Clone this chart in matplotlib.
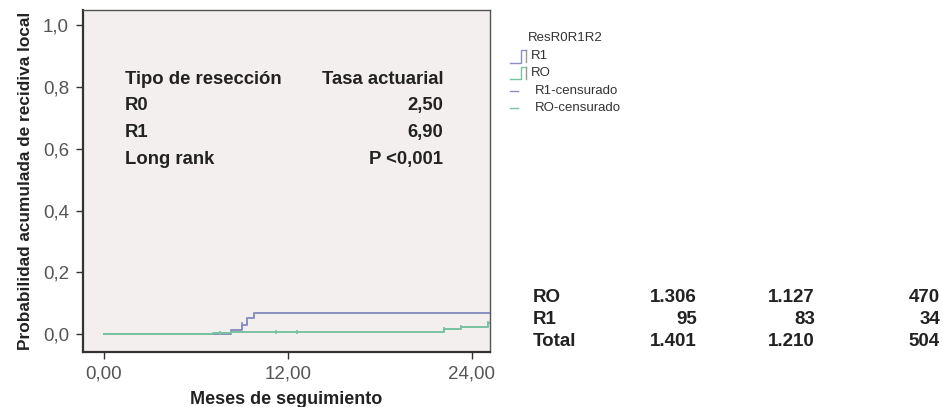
import numpy as np
import matplotlib as mpl
mpl.use('Agg')
import matplotlib.pyplot as plt
from matplotlib.lines import Line2D

mpl.rcParams['font.family'] = ['Liberation Sans', 'DejaVu Sans']

# Kaplan-Meier style cumulative curves (months, cumulative probability)
r1_t = [0.0, 8.28, 8.98, 9.35, 9.78, 25.5]
r1_p = [0.0, 0.012, 0.030, 0.052, 0.069, 0.069]
r1_cens_t = [8.98]
r1_cens_p = [0.030]

r0_t = [0.0, 7.1, 8.3, 22.2, 23.3, 25.05, 25.5]
r0_p = [0.0, 0.003, 0.008, 0.017, 0.024, 0.035, 0.035]
r0_cens_t = [7.6, 11.2, 12.6, 22.2, 23.3, 25.05]
r0_cens_p = [0.003, 0.008, 0.008, 0.017, 0.024, 0.035]

x_ticks = [0, 12, 24]
x_ticklabels = ["0,00", "12,00", "24,00"]
y_ticks = [0.0, 0.2, 0.4, 0.6, 0.8, 1.0]
y_ticklabels = ["0,0", "0,2", "0,4", "0,6", "0,8", "1,0"]

info_rows = [("Tipo de resección", "Tasa actuarial"),
             ("R0", "2,50"),
             ("R1", "6,90"),
             ("Long rank", "P <0,001")]

table_labels = ["RO", "R1", "Total"]
table_col1 = ["1.306", "95", "1.401"]
table_col2 = ["1.127", "83", "1.210"]
table_col3 = ["470", "34", "504"]

blue = "#8a8fc0"
green = "#78c2a0"
W, H = 943, 407

fig = plt.figure(figsize=(W / 100, H / 100), dpi=100)
ax = fig.add_axes([83 / W, 1 - 352 / H, (490 - 83) / W, (352 - 10) / H])
ax.set_facecolor("#f3efee")

ax.step(r1_t, r1_p, where="post", color=blue, lw=1.4)
ax.step(r0_t, r0_p, where="post", color=green, lw=1.4)
ax.plot(r1_cens_t, r1_cens_p, ls="none", marker="|", ms=4, mew=1.2, color=blue)
ax.plot(r0_cens_t, r0_cens_p, ls="none", marker="|", ms=3, mew=1.2, color=green)

ax.set_xlim(-1.37, 25.2)
ax.set_ylim(-0.058, 1.049)
ax.set_xticks(x_ticks)
ax.set_xticklabels(x_ticklabels)
ax.set_yticks(y_ticks)
ax.set_yticklabels(y_ticklabels)
ax.tick_params(axis="both", direction="out", length=5, width=1, color="#333333",
               labelsize=13.5, labelcolor="#555555", pad=5)

for side in ["left", "bottom"]:
    ax.spines[side].set_linewidth(1.6)
    ax.spines[side].set_color("#333333")
for side in ["top", "right"]:
    ax.spines[side].set_linewidth(1.0)
    ax.spines[side].set_color("#555555")

ax.set_xlabel("Meses de seguimiento", fontsize=13, fontweight="bold", color="#222222", labelpad=6)
ax.set_ylabel("Probabilidad acumulada de recidiva local", fontsize=12.4, fontweight="bold",
              color="#222222", labelpad=7)

# text block inside the plot
for i, (left, right) in enumerate(info_rows):
    y = 79 + i * 26.7
    fig.text(125 / W, 1 - y / H, left, ha="left", va="center", fontsize=13.3,
             fontweight="bold", color="#222222")
    fig.text(443 / W, 1 - y / H, right, ha="right", va="center", fontsize=13.3,
             fontweight="bold", color="#222222")

# legend drawn by hand
def fl(xs, ys, color):
    fig.add_artist(Line2D([x / W for x in xs], [1 - y / H for y in ys],
                          color=color, lw=1.0, transform=fig.transFigure))

lkw = dict(ha="left", va="center", fontsize=9.5, color="#333333")
fig.text(528 / W, 1 - 38 / H, "ResR0R1R2", **lkw)
fl([510, 521, 521, 526], [62.5, 62.5, 50, 50], blue)
fl([526, 526], [50, 62], "#999999")
fig.text(531 / W, 1 - 56 / H, "R1", **lkw)
fl([510, 521, 521, 526], [79, 79, 67, 67], green)
fl([526, 526], [67, 79], "#999999")
fig.text(531 / W, 1 - 73 / H, "RO", **lkw)
fl([510, 518], [90.7, 90.7], blue)
fig.text(535 / W, 1 - 90.7 / H, "R1-censurado", **lkw)
fl([510, 518], [108, 108], green)
fig.text(535 / W, 1 - 108 / H, "RO-censurado", **lkw)

# table at the bottom right
for i, lab in enumerate(table_labels):
    y = 298 + i * 22
    kw = dict(va="center", fontsize=13.5, fontweight="bold", color="#222222")
    fig.text(533 / W, 1 - y / H, lab, ha="left", **kw)
    fig.text(697 / W, 1 - y / H, table_col1[i], ha="right", **kw)
    fig.text(815 / W, 1 - y / H, table_col2[i], ha="right", **kw)
    fig.text(940 / W, 1 - y / H, table_col3[i], ha="right", **kw)

fig.savefig("out.png", dpi=100)
